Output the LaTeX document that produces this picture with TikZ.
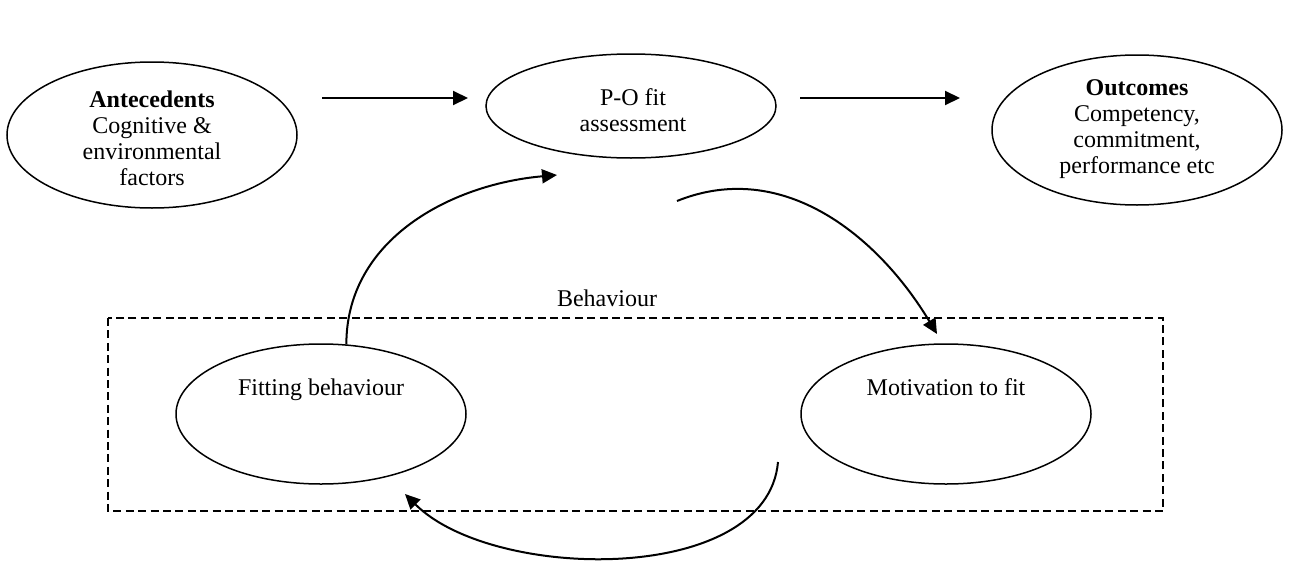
\documentclass[tikz,border=0pt]{standalone}
\usepackage{fontspec}
\setmainfont{Liberation Serif}
\usetikzlibrary{positioning,shapes.geometric,arrows.meta}

\begin{document}
\begin{tikzpicture}[x=0.5pt,y=-0.5pt,
    oval/.style={draw, ellipse, line width=0.75pt, inner sep=0pt, minimum width=145pt},
    txt/.style={align=center, inner sep=0pt, font=\fontsize{12pt}{13pt}\selectfont},
    arr/.style={-{Triangle[length=7.5pt,width=7pt]}, line width=1pt},
    dashbox/.style={draw, line width=0.75pt, dash pattern=on 4pt off 2.2pt}]
    \useasboundingbox (0,0) rectangle (1290,562);

    % top row
    \node (ante) [oval, minimum height=73pt] at (152,135) {};
    \node (pofit) [oval, minimum height=52pt] at (631,106) {};
    \node (outc) [oval, minimum height=75pt] at (1137,130) {};
    \node (antetxt) [txt] at (152,138) {\textbf{Antecedents}\\Cognitive \&\\environmental\\factors};
    \node (pofittxt) [txt] at (633,110) {P-O fit\\assessment};
    \node (outctxt) [txt] at (1137,129) {\textbf{Outcomes}\\Competency,\\commitment,\\performance etc};

    % behaviour cycle
    \draw[dashbox] (108,318) rectangle (1163,511);
    \node (beh) [txt, anchor=base] at (607,306) {Behaviour};
    \node (fit) [oval, minimum height=70pt] at (321,414) {};
    \node (mot) [oval, minimum height=70pt] at (946,414) {};
    \node (fittxt) [txt, anchor=base] at (321,395) {Fitting behaviour};
    \node (mottxt) [txt, anchor=base] at (946,395) {Motivation to fit};

    % loose ends of the connectors
    \coordinate (a1s) at (322,98);
    \coordinate (a1e) at (468,98);
    \coordinate (a2s) at (800,98);
    \coordinate (a2e) at (960,98);
    \coordinate (fitend) at (557,175);
    \coordinate (pofitout) at (677,201);
    \coordinate (motend) at (937,334);
    \coordinate (motout) at (778,462);
    \coordinate (backend) at (405,494);

    \draw[arr] (a1s) -- (a1e);
    \draw[arr] (a2s) -- (a2e);
    \draw[arr] (fit.70) to[out=90,in=185] (fitend);
    \draw[arr] (pofitout) to[out=22,in=121] (motend);
    \draw[arr] (motout) to[out=-95,in=-45,looseness=0.85] (backend);
\end{tikzpicture}
\end{document}
